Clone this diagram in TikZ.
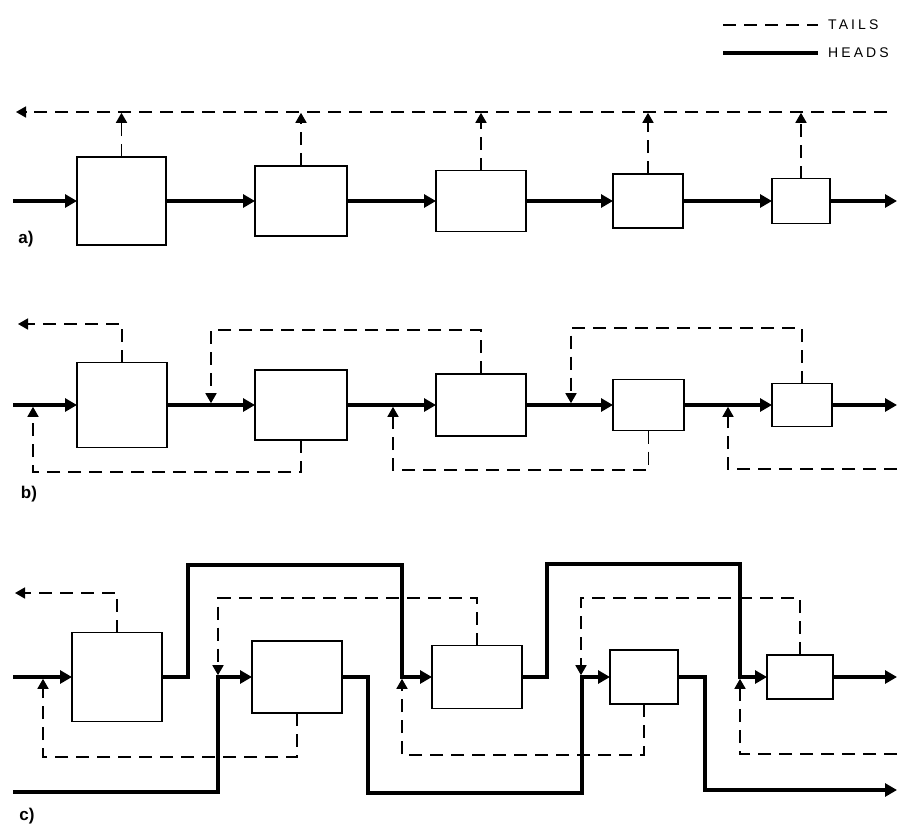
\documentclass[tikz,border=0pt]{standalone}
\usepackage{fontspec}
\setsansfont{Liberation Sans}
\usetikzlibrary{arrows.meta}
\begin{document}
\begin{tikzpicture}[x=1pt,y=-1pt,
  box/.style={draw, line width=1.8pt, inner sep=0pt, outer sep=0pt},
  heads/.style={line width=3.8pt, line join=miter},
  headtip/.style={-{Triangle[length=12pt,width=13pt]}},
  tails/.style={line width=1.6pt, dash pattern=on 13pt off 8pt},
  tailtip/.style={-{Triangle[length=10pt,width=11pt]}},
  onl/.style={shorten >=1.8pt},
  lab/.style={font=\sffamily\bfseries\fontsize{17}{17}\selectfont, inner sep=0pt},
  leg/.style={font=\sffamily\fontsize{14}{14}\selectfont\addfontfeatures{LetterSpace=22}, inner sep=0pt, anchor=west}]
\useasboundingbox (0,0) rectangle (898,825);

% legend
\coordinate (l1a) at (723,25); \coordinate (l1b) at (818,25);
\coordinate (l2a) at (723,53); \coordinate (l2b) at (818,53);
\draw[tails] (l1a) -- (l1b);
\draw[heads] (l2a) -- (l2b);
\node[leg] (tl) at (828,25) {TAILS};
\node[leg] (hl) at (828,53) {HEADS};

% ---------------- a)
\node[box, minimum width=89pt, minimum height=88pt] (A1) at (121.5,201) {};
\node[box, minimum width=92pt, minimum height=70pt] (A2) at (301,201) {};
\node[box, minimum width=90pt, minimum height=61pt] (A3) at (481,201) {};
\node[box, minimum width=70pt, minimum height=54pt] (A4) at (648,201) {};
\node[box, minimum width=58pt, minimum height=45pt] (A5) at (801,201) {};
\coordinate (ain) at (13,201); \coordinate (aout) at (897,201);
\coordinate (atr) at (887,112); \coordinate (atl) at (16,112);
\draw[tails,tailtip] (atr) -- (atl);
\foreach \n in {A1,A2,A3,A4,A5}{
  \draw[tails,tailtip,shorten >=0.8pt] (\n.north) -- (\n.north |- atr);
}
\draw[heads,headtip] (ain) -- (A1.west);
\draw[heads,headtip] (A1.east) -- (A2.west);
\draw[heads,headtip] (A2.east) -- (A3.west);
\draw[heads,headtip] (A3.east) -- (A4.west);
\draw[heads,headtip] (A4.east) -- (A5.west);
\draw[heads,headtip] (A5.east) -- (aout);
\node[lab] (la) at (26,239) {a)};

% ---------------- b)
\node[box, minimum width=90pt, minimum height=85pt] (B1) at (122,405) {};
\node[box, minimum width=92pt, minimum height=70pt] (B2) at (301,405) {};
\node[box, minimum width=90pt, minimum height=62pt] (B3) at (481,405) {};
\node[box, minimum width=71pt, minimum height=51pt] (B4) at (648.5,405) {};
\node[box, minimum width=60pt, minimum height=43pt] (B5) at (802,405) {};
\coordinate (bin) at (13,405); \coordinate (bout) at (897,405);
\coordinate (btl) at (18,324);
\coordinate (bj1) at (211,405); \coordinate (bj2) at (33,405);
\coordinate (bj3) at (393,405); \coordinate (bj4) at (571,405);
\coordinate (bj5) at (728,405); \coordinate (bre) at (897,469);
\draw[tails,tailtip] (B1.north) |- (btl);
\draw[tails,tailtip,onl] (B3.north) |- (211,330) -- (bj1);
\draw[tails,tailtip,onl] (B5.north) |- (571,328) -- (bj4);
\draw[tails,tailtip,onl] (B2.south) |- (33,472) -- (bj2);
\draw[tails,tailtip,onl] (B4.south) |- (393,470) -- (bj3);
\draw[tails,tailtip,onl] (bre) -| (bj5);
\draw[heads,headtip] (bin) -- (B1.west);
\draw[heads,headtip] (B1.east) -- (B2.west);
\draw[heads,headtip] (B2.east) -- (B3.west);
\draw[heads,headtip] (B3.east) -- (B4.west);
\draw[heads,headtip] (B4.east) -- (B5.west);
\draw[heads,headtip] (B5.east) -- (bout);
\node[lab] (lb) at (29,494) {b)};

% ---------------- c)
\node[box, minimum width=90pt, minimum height=89pt] (C1) at (117,677) {};
\node[box, minimum width=90pt, minimum height=72pt] (C2) at (297,677) {};
\node[box, minimum width=90pt, minimum height=63pt] (C3) at (477,677) {};
\node[box, minimum width=68pt, minimum height=54pt] (C4) at (644,677) {};
\node[box, minimum width=66pt, minimum height=44pt] (C5) at (800,677) {};
\coordinate (cin) at (13,677); \coordinate (cin2) at (13,792);
\coordinate (cout) at (897,677); \coordinate (cout2) at (897,790);
\coordinate (ctl) at (15,593);
\coordinate (cj1) at (218,677); \coordinate (cj2) at (43,677);
\coordinate (cj3) at (402,677); \coordinate (cj4) at (581,677);
\coordinate (cj5) at (740,677); \coordinate (cre) at (897,754);
\draw[tails,tailtip] (C1.north) |- (ctl);
\draw[tails,tailtip,onl] (C3.north) |- (218,598) -- (cj1);
\draw[tails,tailtip,onl] (C5.north) |- (581,598) -- (cj4);
\draw[tails,tailtip,onl] (C2.south) |- (43,757) -- (cj2);
\draw[tails,tailtip,onl] (C4.south) |- (402,755) -- (cj3);
\draw[tails,tailtip,onl] (cre) -| (cj5);
\draw[heads,headtip] (cin) -- (C1.west);
\draw[heads,headtip] (C1.east) -| (188,565) -| (cj3) -- (C3.west);
\draw[heads,headtip] (cin2) -| (cj1) -- (C2.west);
\draw[heads,headtip] (C2.east) -| (368,793) -| (582,677) -- (C4.west);
\draw[heads,headtip] (C3.east) -| (547,564) -| (cj5) -- (C5.west);
\draw[heads,headtip] (C4.east) -| (705,790) -- (cout2);
\draw[heads,headtip] (C5.east) -- (cout);
\node[lab] (lc) at (27,816) {c)};
\end{tikzpicture}
\end{document}
